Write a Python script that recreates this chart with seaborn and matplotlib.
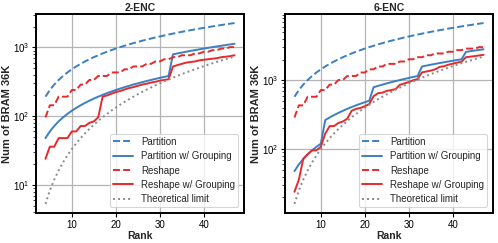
import matplotlib
matplotlib.use("Agg")
import matplotlib.pyplot as plt
import seaborn as sns
import pandas as pd

ranks = [4, 5, 6, 7, 8, 9, 10, 11, 12, 13, 14, 15, 16, 17, 18, 19, 20, 21, 22, 23, 24, 25,
         26, 27, 28, 29, 30, 31, 32, 33, 34, 35, 36, 37, 38, 39, 40, 41, 42, 43, 44, 45, 46, 47]

# ---- 2-ENC ----
enc2_partition = [192, 240, 288, 336, 384, 432, 480, 528, 576, 624, 672, 720, 768, 816, 864, 912,
                  960, 1008, 1056, 1104, 1152, 1200, 1248, 1296, 1344, 1392, 1440, 1488, 1536,
                  1584, 1632, 1680, 1728, 1776, 1824, 1872, 1920, 1968, 2016, 2064, 2112, 2160,
                  2208, 2256]
enc2_partition_grp = [48, 60, 72, 84, 96, 108, 120, 132, 144, 156, 168, 180, 192, 204, 216, 228,
                      240, 252, 264, 276, 288, 300, 312, 324, 336, 348, 360, 372, 384,
                      792, 816, 840, 864, 888, 912, 936, 960, 984, 1008, 1032, 1056, 1080, 1104, 1128]
enc2_reshape = [96, 144, 144, 192, 192, 192, 240, 240, 288, 288, 336, 336, 384, 384, 384, 432,
                432, 432, 480, 480, 528, 528, 528, 576, 576, 624, 624, 672, 672, 720, 720, 768,
                768, 768, 816, 816, 864, 864, 912, 912, 960, 960, 1008, 1008]
enc2_reshape_grp = [24, 36, 36, 48, 48, 48, 60, 60, 72, 72, 80, 84, 96, 192, 200, 212, 224, 232,
                    244, 256, 264, 276, 288, 296, 308, 316, 328, 336, 344, 528, 552, 576, 600,
                    612, 624, 648, 660, 672, 684, 696, 720, 732, 744, 768]
enc2_theory = [5.3, 8.3, 12, 16.3, 21.3, 27, 33.3, 40.3, 48, 56.3, 65.3, 75, 85.3, 96.3, 108,
               120.3, 133.3, 147, 161.3, 176.3, 192, 208.3, 225.3, 243, 261.3, 280.3, 300, 320.3,
               341.3, 363, 385.3, 408.3, 432, 456.3, 481.3, 507, 533.3, 560.3, 588, 616.3, 645.3,
               675, 705.3, 736.3]

# ---- 6-ENC ----
enc6_partition = [576, 720, 864, 1008, 1152, 1296, 1440, 1584, 1728, 1872, 2016, 2160, 2304, 2448,
                  2592, 2736, 2880, 3024, 3168, 3312, 3456, 3600, 3744, 3888, 4032, 4176, 4320,
                  4464, 4608, 4752, 4896, 5040, 5184, 5328, 5472, 5616, 5760, 5904, 6048, 6192,
                  6336, 6480, 6624, 6768]
enc6_partition_grp = [48, 60, 72, 84, 96, 108, 120, 264, 288, 312, 336, 360, 384, 408, 432, 456,
                      480, 504, 792, 828, 864, 900, 936, 972, 1008, 1044, 1080, 1116, 1152,
                      1584, 1632, 1680, 1728, 1776, 1824, 1872, 1920, 1968, 2016,
                      2580, 2640, 2700, 2760, 2820]
enc6_reshape = [288, 432, 432, 576, 576, 576, 720, 720, 864, 864, 1008, 1008, 1152, 1152, 1152,
                1296, 1296, 1440, 1440, 1584, 1584, 1728, 1728, 1728, 1872, 1872, 2016, 2016,
                2160, 2160, 2304, 2304, 2448, 2448, 2448, 2592, 2592, 2736, 2736, 2880, 2880,
                2880, 3024, 3024]
enc6_reshape_grp = [24, 36, 72, 84, 96, 96, 108, 168, 216, 216, 240, 252, 276, 360, 384, 396, 420,
                    450, 588, 648, 660, 700, 720, 744, 860, 900, 940, 1000, 1040, 1300, 1340, 1380,
                    1440, 1560, 1600, 1680, 1740, 1800, 1860, 2160, 2200, 2240, 2290, 2340]
enc6_theory = [16, 25, 36, 49, 64, 81, 100, 121, 144, 169, 196, 225, 256, 289, 324, 361, 400, 441,
               484, 529, 576, 625, 676, 729, 784, 841, 900, 961, 1024, 1089, 1156, 1225, 1296,
               1369, 1444, 1521, 1600, 1681, 1764, 1849, 1936, 2025, 2116, 2209]

labels = ["Partition", "Partition w/ Grouping", "Reshape", "Reshape w/ Grouping", "Theoretical limit"]
titles = ["2-ENC", "6-ENC"]

BLUE = "#3b7fc4"
RED = "#e8292c"
GREY = "#8a8a8a"
styles = [(BLUE, (0, (3.6, 1.6))), (BLUE, "-"), (RED, (0, (3.6, 1.6))), (RED, "-"), (GREY, (0, (1, 1.6)))]

sns.set_style("white")
plt.rcParams["font.family"] = ["Liberation Sans", "DejaVu Sans"]
plt.rcParams["axes.edgecolor"] = "black"
plt.rcParams["axes.linewidth"] = 1.4

fig = plt.figure(figsize=(4.98, 2.43), dpi=100)
ax_pos = [[36 / 498, 30 / 243, 208 / 498, 199 / 243], [285 / 498, 30 / 243, 208 / 498, 199 / 243]]

panels = [
    [enc2_partition, enc2_partition_grp, enc2_reshape, enc2_reshape_grp, enc2_theory],
    [enc6_partition, enc6_partition_grp, enc6_reshape, enc6_reshape_grp, enc6_theory],
]

for pos, title, series in zip(ax_pos, titles, panels):
    ax = fig.add_axes(pos)
    for lab, vals, (col, ls) in zip(labels, series, styles):
        df = pd.DataFrame({"Rank": ranks, "BRAM": vals})
        sns.lineplot(data=df, x="Rank", y="BRAM", ax=ax, color=col, linestyle=ls,
                     linewidth=1.4, label=lab)
    ax.set_yscale("log")
    ax.grid(True, which="major", color="#b4b4b4", linewidth=0.9)
    ax.set_axisbelow(True)
    ax.set_xticks([10, 20, 30, 40])
    ax.tick_params(axis="both", which="major", labelsize=7, length=3, width=0.8, pad=2, colors="black")
    ax.tick_params(axis="y", which="minor", length=2, width=0.6, left=True)
    ax.tick_params(axis="x", which="major", bottom=True)
    ax.tick_params(axis="y", which="major", left=True)
    ax.set_xlabel("Rank", fontsize=7.5, fontweight="bold", labelpad=1)
    ax.set_ylabel("Num of BRAM 36K", fontsize=8, fontweight="bold", labelpad=0.5)
    ax.set_title(title, fontsize=7.5, fontweight="bold", pad=2)
    for sp in ax.spines.values():
        sp.set_color("black")
        sp.set_linewidth(1.4)
    leg = ax.legend(loc="lower right", fontsize=7, frameon=True, handlelength=2.0,
                    borderpad=0.3, labelspacing=0.45, handletextpad=0.9,
                    borderaxespad=0.6, fancybox=True)
    leg.get_frame().set_edgecolor("#cccccc")
    leg.get_frame().set_linewidth(0.8)

fig.savefig("out.png", dpi=100)
